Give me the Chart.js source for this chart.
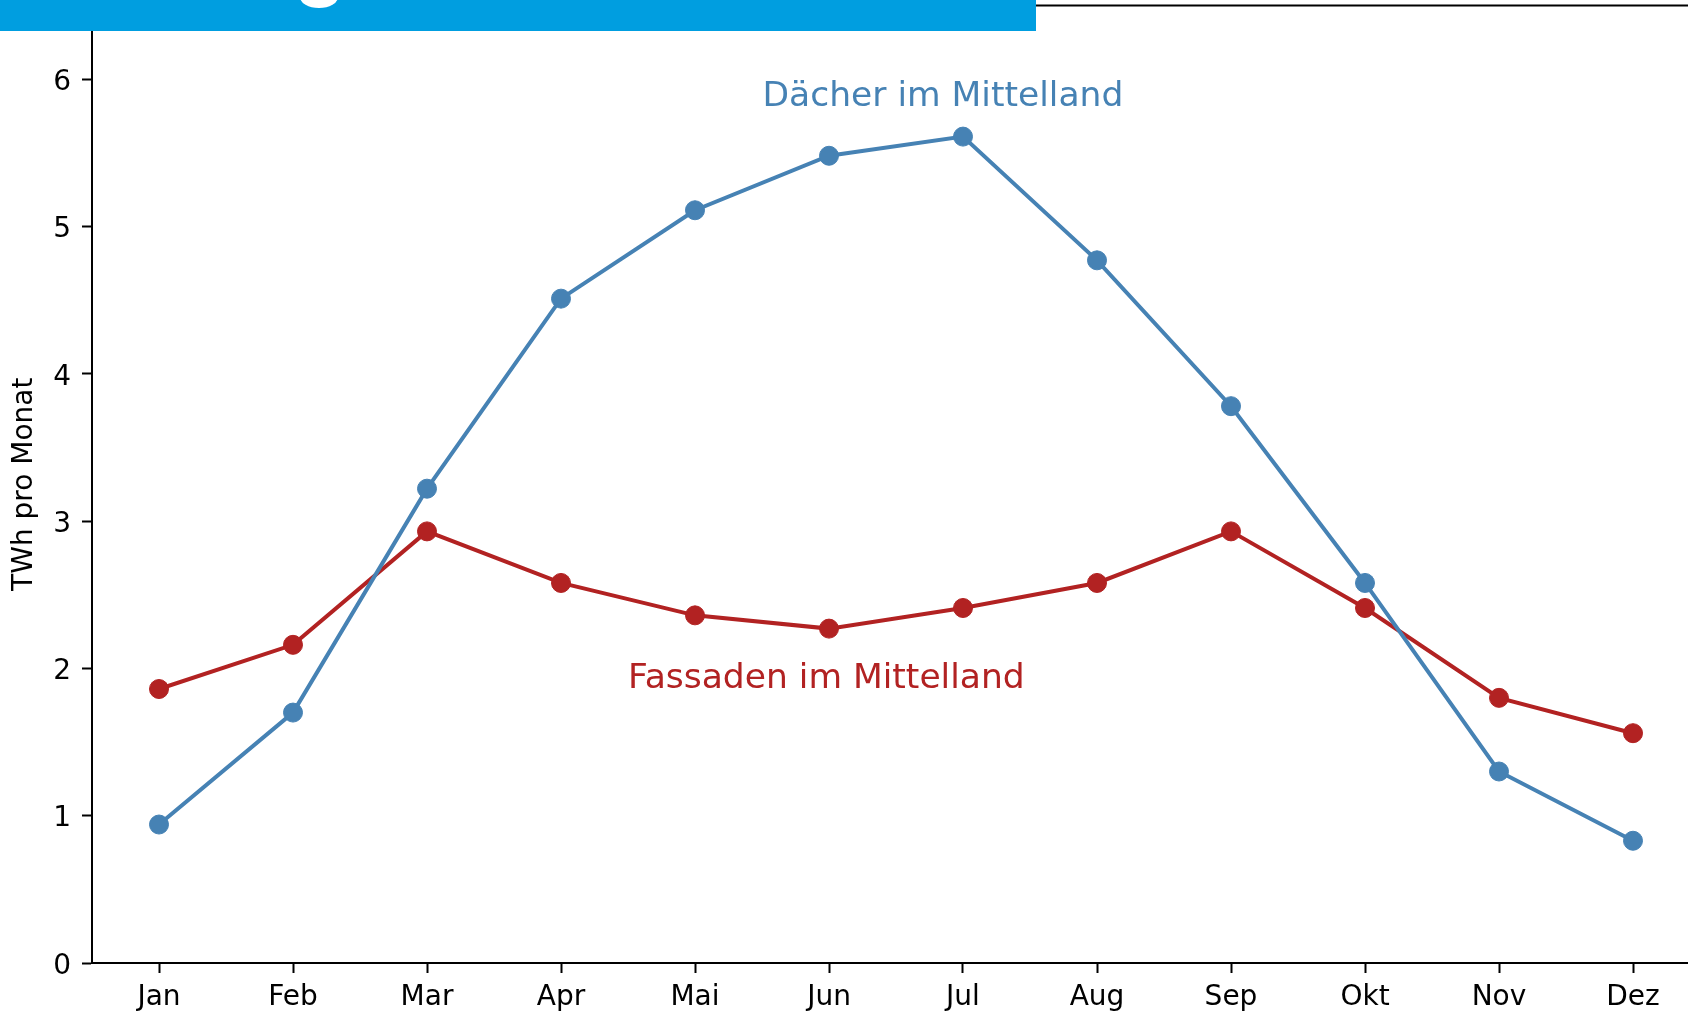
<!DOCTYPE html>
<html>
<head>
<meta charset="utf-8">
<script src="https://cdn.jsdelivr.net/npm/chart.js@4.4.1/dist/chart.umd.min.js"></script>
<style>
  html, body { margin: 0; padding: 0; background: #fff; overflow: hidden; }
  #wrap { position: relative; width: 1700px; height: 1015px; }
  #chartMittelland { display: block; }
  #banner { position: absolute; left: 0; top: 0; width: 1036px; height: 31px; background: #009ee0; z-index: 2; overflow: hidden; }
  #banner .glyph { position: absolute; left: 300px; top: -14px; width: 38px; height: 22px; background: #fff; border-radius: 50%; }
</style>
</head>
<body>
<div id="wrap">
  <div id="banner"><div class="glyph"></div></div>
  <canvas id="chartMittelland" width="1700" height="1015"></canvas>
</div>
<script>
const months = ['Jan', 'Feb', 'Mar', 'Apr', 'Mai', 'Jun', 'Jul', 'Aug', 'Sep', 'Okt', 'Nov', 'Dez'];
const daecher = [0.94, 1.70, 3.22, 4.51, 5.11, 5.48, 5.61, 4.77, 3.78, 2.58, 1.30, 0.83];
const fassaden = [1.86, 2.16, 2.93, 2.58, 2.36, 2.27, 2.41, 2.58, 2.93, 2.41, 1.80, 1.56];
const yTicks = [0, 1, 2, 3, 4, 5, 6];

const FONT = '"DejaVu Sans", sans-serif';
const BLUE = '#4682b4';
const RED = '#b22222';

// text labels placed next to the lines, in data coordinates
const seriesLabels = {
    id: 'seriesLabels',
    afterDatasetsDraw(chart, args, opts) {
        let ctx = chart.ctx;
        let xs = chart.scales.x, ys = chart.scales.y;
        ctx.save();
        ctx.font = '34.5px ' + FONT;
        ctx.textAlign = 'center';
        ctx.textBaseline = 'middle';
        opts.items.forEach(function(item) {
            ctx.fillStyle = item.color;
            ctx.fillText(item.text, xs.getPixelForValue(item.x), ys.getPixelForValue(item.y));
        });
        ctx.restore();
    }
};

// top spine
const topSpine = {
    id: 'topSpine',
    afterDraw(chart) {
        let a = chart.chartArea, ctx = chart.ctx;
        ctx.save();
        ctx.strokeStyle = '#000';
        ctx.lineWidth = 2;
        ctx.beginPath();
        ctx.moveTo(a.left, a.top);
        ctx.lineTo(a.right, a.top);
        ctx.stroke();
        ctx.restore();
    }
};

document.addEventListener('DOMContentLoaded', function() {
    let ctx = document.getElementById('chartMittelland').getContext('2d');
    new Chart(ctx, {
        type: 'line',
        data: {
            labels: months,
            datasets: [{
                label: 'Dächer im Mittelland',
                data: daecher,
                borderColor: BLUE,
                backgroundColor: BLUE,
                borderWidth: 4,
                pointRadius: 9.5,
                pointBorderWidth: 1,
                tension: 0
            }, {
                label: 'Fassaden im Mittelland',
                data: fassaden,
                borderColor: RED,
                backgroundColor: RED,
                borderWidth: 4,
                pointRadius: 9.5,
                pointBorderWidth: 1,
                tension: 0
            }]
        },
        options: {
            responsive: false,
            animation: false,
            devicePixelRatio: 1,
            layout: { autoPadding: false, padding: { top: 5.5, right: 0, left: 0, bottom: 0 } },
            plugins: {
                legend: { display: false },
                tooltip: { enabled: false },
                seriesLabels: {
                    items: [
                        { text: 'Dächer im Mittelland', x: 5.85, y: 5.88, color: BLUE },
                        { text: 'Fassaden im Mittelland', x: 4.98, y: 1.93, color: RED }
                    ]
                }
            },
            scales: {
                x: {
                    type: 'category',
                    offset: true,
                    grid: { display: true, drawOnChartArea: false, drawTicks: true, tickLength: 10, tickWidth: 2, tickColor: '#000', offset: false },
                    border: { display: true, color: '#000', width: 2 },
                    ticks: { color: '#000', font: { family: FONT, size: 28 }, padding: 8, maxRotation: 0, autoSkip: false },
                    afterFit: function(scale) {
                        scale.height = 52;
                        scale.paddingLeft = 0;
                        scale.paddingRight = 0;
                    }
                },
                y: {
                    min: 0,
                    max: 6.5,
                    grid: { display: true, drawOnChartArea: false, drawTicks: true, tickLength: 10, tickWidth: 2, tickColor: '#000' },
                    border: { display: true, color: '#000', width: 2 },
                    ticks: {
                        color: '#000',
                        font: { family: FONT, size: 28, lineHeight: 0.25 },
                        padding: 11,
                        // empty first line nudges the number down to sit centred on its tick
                        callback: function(v) { return ['', String(v)]; }
                    },
                    afterBuildTicks: function(scale) {
                        scale.ticks = yTicks.map(function(v) { return { value: v }; });
                    },
                    title: {
                        display: true,
                        text: 'TWh pro Monat',
                        color: '#000',
                        font: { family: FONT, size: 28 },
                        padding: { top: 8, bottom: 0 }
                    },
                    afterFit: function(scale) {
                        scale.width = 92;
                        scale.paddingTop = 0;
                        scale.paddingBottom = 0;
                    }
                }
            }
        },
        plugins: [seriesLabels, topSpine]
    });
});
</script>
</body>
</html>
